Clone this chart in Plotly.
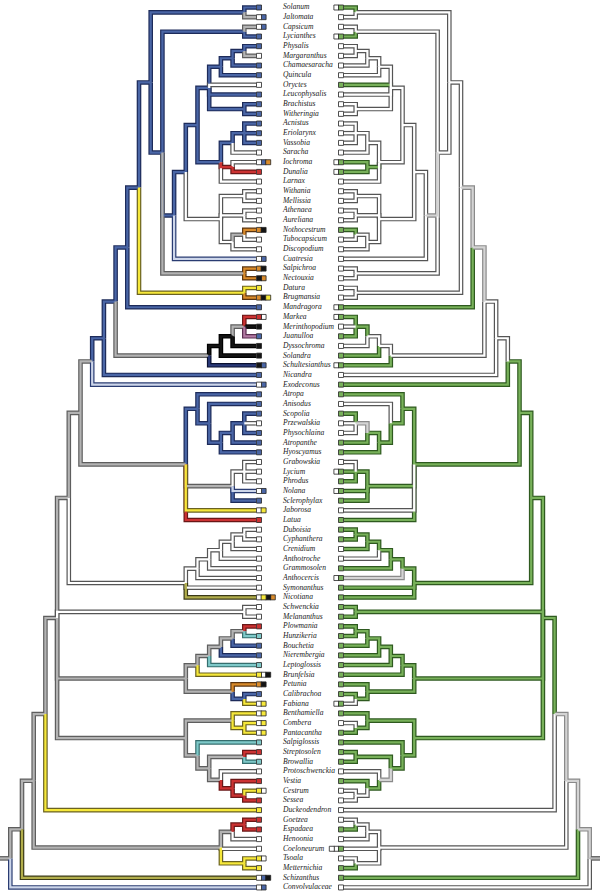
# %% ---- mirrored Solanaceae cladograms ------------------------
# Requirements and constants
import plotly.graph_objects as go

taxa = [
    'Solanum', 'Jaltomata', 'Capsicum', 'Lycianthes', 'Physalis', 'Margaranthus',
    'Chamaesaracha', 'Quincula', 'Oryctes', 'Leucophysalis', 'Brachistus',
    'Witheringia', 'Acnistus', 'Eriolarynx', 'Vassobia', 'Saracha', 'Iochroma',
    'Dunalia', 'Larnax', 'Withania', 'Mellissia', 'Athenaea', 'Aureliana',
    'Nothocestrum', 'Tubocapsicum', 'Discopodium', 'Cuatresia', 'Salpichroa',
    'Nectouxia', 'Datura', 'Brugmansia', 'Mandragora', 'Markea', 'Merinthopodium',
    'Juanulloa', 'Dyssochroma', 'Solandra', 'Schultesianthus', 'Nicandra',
    'Exodeconus', 'Atropa', 'Anisodus', 'Scopolia', 'Przewalskia', 'Physochlaina',
    'Atropanthe', 'Hyoscyamus', 'Grabowskia', 'Lycium', 'Phrodus', 'Nolana',
    'Sclerophylax', 'Jaborosa', 'Latua', 'Duboisia', 'Cyphanthera', 'Crenidium',
    'Anthotroche', 'Grammosolen', 'Anthocercis', 'Symonanthus', 'Nicotiana',
    'Schwenckia', 'Melananthus', 'Plowmania', 'Hunzikeria', 'Bouchetia',
    'Nierembergia', 'Leptoglossis', 'Brunfelsia', 'Petunia', 'Calibrachoa',
    'Fabiana', 'Benthamiella', 'Combera', 'Pantacantha', 'Salpiglossis',
    'Streptosolen', 'Browallia', 'Protoschwenckia', 'Vestia', 'Cestrum', 'Sessea',
    'Duckeodendron', 'Goetzea', 'Espadaea', 'Henoonia', 'Coeloneurum', 'Tsoala',
    'Metternichia', 'Schizanthus', 'Convolvulaceae',
]

# clade = (first taxon, last taxon, node level, left state, right state)
clades = [
    (0, 91, 21, 'g', 'g'), (0, 90, 20, 'g', 'L'), (0, 89, 19, 'g', 'L'),
    (0, 83, 18, 'g', 'L'), (0, 82, 17, 'g', 'G'), (0, 61, 16, 'g', 'G'),
    (0, 53, 15, 'g', 'G'), (0, 39, 14, 'g', 'G'), (0, 38, 13, 'b', 'w'),
    (0, 37, 12, 'b', 'w'), (0, 31, 11, 'b', 'L'), (0, 30, 10, 'b', 'L'),
    (0, 28, 9, 'b', 'w'), (0, 1, 1, 'b', 'w'), (2, 28, 8, 'b', 'w'),
    (2, 3, 1, 'b', 'w'), (4, 26, 7, 'b', 'L'), (4, 25, 6, 'b', 'w'),
    (4, 18, 5, 'b', 'w'), (4, 11, 4, 'b', 'w'), (4, 7, 3, 'b', 'w'),
    (4, 6, 2, 'b', 'w'), (4, 5, 1, 'b', 'w'), (10, 11, 1, 'b', 'w'),
    (12, 18, 3, 'b', 'w'), (12, 15, 2, 'b', 'w'), (12, 14, 1, 'b', 'w'),
    (16, 17, 2, 'r', 'G'), (19, 25, 3, 'w', 'w'), (19, 20, 1, 'w', 'w'),
    (21, 22, 1, 'w', 'w'), (23, 25, 2, 'w', 'w'), (23, 24, 1, 'g', 'w'),
    (27, 28, 1, 'g', 'w'), (29, 30, 1, 'y', 'w'), (32, 37, 4, 'g', 'w'),
    (32, 36, 3, 'k', 'w'), (32, 35, 2, 'k', 'w'), (32, 34, 1, 'g', 'G'),
    (40, 53, 6, 'g', 'G'), (40, 46, 5, 'b', 'G'), (41, 46, 4, 'b', 'G'),
    (42, 46, 3, 'b', 'G'), (42, 45, 2, 'b', 'G'), (42, 44, 1, 'b', 'L'),
    (47, 51, 2, 'g', 'G'), (47, 49, 1, 'w', 'G'), (54, 61, 6, 'w', 'G'),
    (54, 59, 5, 'w', 'G'), (54, 58, 4, 'w', 'G'), (54, 57, 3, 'w', 'G'),
    (54, 56, 2, 'w', 'G'), (54, 55, 1, 'w', 'G'), (62, 63, 1, 'w', 'G'),
    (64, 72, 6, 'g', 'G'), (64, 69, 5, 'g', 'G'), (64, 68, 4, 'g', 'G'),
    (64, 67, 3, 'g', 'G'), (64, 66, 2, 'g', 'G'), (64, 65, 1, 'g', 'G'),
    (70, 72, 2, 'g', 'G'), (71, 72, 1, 'b', 'G'), (73, 82, 6, 'g', 'G'),
    (73, 75, 2, 'g', 'G'), (74, 75, 1, 'y', 'G'), (76, 82, 5, 'g', 'G'),
    (77, 82, 4, 'g', 'G'), (77, 78, 1, 'g', 'G'), (79, 82, 3, 'g', 'L'),
    (80, 82, 2, 'r', 'G'), (81, 82, 1, 'r', 'w'), (84, 89, 3, 'g', 'w'),
    (84, 86, 2, 'g', 'w'), (84, 85, 1, 'r', 'w'), (88, 89, 1, 'y', 'w'),
]

left_tip = list('bggbbgbbwb' 'bbbbbwwrww' 'wwwowwlooy' 'obrkpkknbl' 'bbbwbbbwww'
                'lbyrwwwwww' 'wvwwrtbbty' 'obyyyytrtw' 'ryryrrwwyy' 'vl')
right_tip = list('GwwGwwwwGw' 'wwwwwwGGww' 'wwwGwwwwww' 'wGGwGwGGwG' 'GwGwwGGwGG'
                 'GGwGGGGwGL' 'GGGGGGGGGG' 'GGwGwGGGGw' 'GwwwwGwwwG' 'Gw')

left_boxes = [
    'b', 'wb', 'wb', 'b', 'b', 'w', 'b', 'b', 'w', 'b',
    'b', 'b', 'b', 'b', 'b', 'w', 'wbo', 'r', 'w', 'w',
    'w', 'w', 'w', 'ok', 'w', 'w', 'wb', 'ok', 'ko', 'y',
    'oky', 'b', 'rw', 'k', 'b', 'k', 'k', 'kb', 'b', 'wb',
    'b', 'b', 'b', 'w', 'b', 'b', 'b', 'w', 'w', 'w',
    'wb', 'b', 'wy', 'r', 'w', 'w', 'w', 'w', 'w', 'w',
    'w', 'wyko', 'w', 'w', 'r', 't', 'b', 'b', 't', 'ywk',
    'ok', 'b', 'wy', 'wy', 'wy', 'wy', 't', 'r', 't', 'w',
    'r', 'yw', 'r', 'y', 'r', 'r', 'w', 'w', 'yw', 'y',
    'wbk', 'wb',
]
right_boxes = [
    'wG', 'w', 'w', 'wG', 'w', 'w', 'w', 'w', 'G', 'w',
    'w', 'w', 'w', 'w', 'w', 'w', 'wG', 'wG', 'w', 'w',
    'w', 'w', 'w', 'G', 'w', 'w', 'w', 'w', 'w', 'w',
    'w', 'wG', 'wG', 'w', 'G', 'w', 'G', 'wG', 'w', 'G',
    'G', 'w', 'G', 'w', 'w', 'G', 'G', 'w', 'wG', 'G',
    'wG', 'G', 'w', 'G', 'G', 'G', 'w', 'w', 'G', 'wG',
    'G', 'G', 'G', 'G', 'G', 'G', 'G', 'G', 'G', 'G',
    'G', 'G', 'wG', 'G', 'w', 'G', 'G', 'G', 'G', 'w',
    'G', 'w', 'w', 'w', 'w', 'G', 'w', 'wwG', 'w', 'G',
    'G', 'w',
]

# state code -> (fill, outline)
palette = {
    'b': ('#4a66a6', '#1d2b5a'), 'g': ('#b3b3b3', '#5e5e5e'),
    'w': ('#ffffff', '#555555'), 'y': ('#f6e83a', '#6a6222'),
    'r': ('#cc3232', '#6a1717'), 'k': ('#141414', '#000000'),
    'o': ('#d98b2b', '#5a3410'), 't': ('#7ec9c9', '#356e6e'),
    'l': ('#cdd6ea', '#2a3c72'), 'v': ('#b2ae4c', '#3b3a18'),
    'p': ('#b27aa3', '#5a2e50'), 'n': ('#2b3b7a', '#0b1130'),
    'G': ('#78b15a', '#2e5a1f'), 'L': ('#d4d4d4', '#8a8a8a'),
}

step = 11.7


# %% ---- Function and class ------------------------
def tree_segments(side):
    sign, x0 = (-1, 256) if side == 'left' else (1, 344)
    col = 3 if side == 'left' else 4
    tips = left_tip if side == 'left' else right_tip

    items = [(r, r, 0, tips[r]) for r in range(len(taxa))]
    items += [(c[0], c[1], c[2], c[col]) for c in clades]

    def parent(it):
        best = None
        for c in clades:
            if c[0] <= it[0] and it[1] <= c[1] and (c[0], c[1]) != (it[0], it[1]):
                if best is None or c[1] - c[0] < best[1] - best[0]:
                    best = c
        return best

    ys = {(r, r): float(r) for r in range(len(taxa))}
    for c in sorted(clades, key=lambda c: c[1] - c[0]):
        kids = [ys[(it[0], it[1])] for it in items if parent(it) is c]
        ys[(c[0], c[1])] = (min(kids) + max(kids)) / 2

    segs = {}
    for it in items:
        x = x0 + sign * step * it[2]
        y = ys[(it[0], it[1])]
        p = parent(it)
        if p is None:
            path = [(0 if side == 'left' else 600, y), (x, y)]
        else:
            px_ = x0 + sign * step * p[2]
            py_ = ys[(p[0], p[1])]
            path = [(px_, py_), (px_, y), (x, y)]
        xs, yy = segs.setdefault(it[3], ([], []))
        xs += [q[0] for q in path] + [None]
        yy += [q[1] for q in path] + [None]
    return segs


# %% ---- Play ground ------------------------
fig = go.Figure()

all_segs = [tree_segments('left'), tree_segments('right')]
for layer, width in ((1, 4.6), (0, 2.2)):
    for segs in all_segs:
        for code, (xs, ys) in segs.items():
            fig.add_trace(go.Scatter(
                x=xs, y=ys, mode='lines', hoverinfo='skip',
                line=dict(color=palette[code][layer], width=width),
            ))

box_pts = {}
for r, s in enumerate(left_boxes):
    for j, code in enumerate(s):
        box_pts.setdefault(code, ([], []))
        box_pts[code][0].append(259 + 4.6 * j)
        box_pts[code][1].append(r)
for r, s in enumerate(right_boxes):
    for j, code in enumerate(reversed(s)):
        box_pts.setdefault(code, ([], []))
        box_pts[code][0].append(341 - 4.6 * j)
        box_pts[code][1].append(r)
for code, (xs, ys) in box_pts.items():
    fig.add_trace(go.Scatter(
        x=xs, y=ys, mode='markers', hoverinfo='skip',
        marker=dict(symbol='square', size=5, color=palette[code][0],
                    line=dict(color='#222222', width=0.8)),
    ))

fig.add_trace(go.Scatter(
    x=[283] * len(taxa), y=list(range(len(taxa))), mode='text',
    text=['<i>%s</i>' % t for t in taxa], textposition='middle right',
    textfont=dict(family='Liberation Serif', size=7.6, color='#222222'),
    hoverinfo='skip',
))

fig.update_layout(
    width=600, height=892, showlegend=False,
    margin=dict(l=0, r=0, t=0, b=0),
    paper_bgcolor='white', plot_bgcolor='white',
    xaxis=dict(range=[0, 600], visible=False, fixedrange=True),
    yaxis=dict(range=[91.47, -0.776], visible=False, fixedrange=True),
)

# the page's default body margin would push the 600x892 figure off the window
fig.write_html('out.html', config={'displayModeBar': False},
               post_script="document.body.style.margin='0';"
                           "document.body.style.overflow='hidden';")
